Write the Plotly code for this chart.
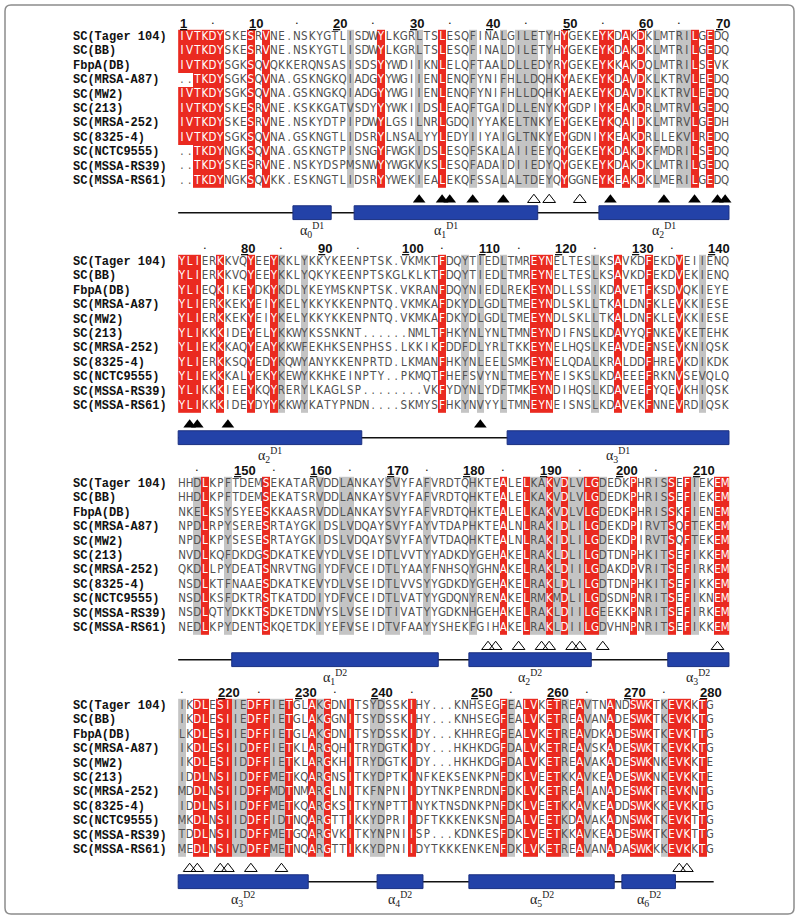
import plotly.graph_objects as go

# ---------------- data ----------------
seq_names = ["SC(Tager 104)", "SC(BB)", "FbpA(DB)", "SC(MRSA-A87)", "SC(MW2)", "SC(213)",
             "SC(MRSA-252)", "SC(8325-4)", "SC(NCTC9555)", "SC(MSSA-RS39)", "SC(MSSA-RS61)"]

block1 = [
    "IVTKDYSKESRVNE.NSKYGTLISDWYLKGRLTSLESQFINALGILETYHYGEKEYKDAKDKLMTRILGEDQ",
    "IVTKDYSKESRVNE.NSKYGTLISDWYLKGRLTSLESQFINALDILETYHYGEKEYKDAKDKLMTRILGEDQ",
    "IVTKDYSGKSQVQKKERQNSASISDSYYWDIIKNLELQFTAALDLLEDYRYGEKEYKKAKDQLMTRILSEVK",
    "..TKDYSGKSQVNA.GSKNGKQIADGYYWGIIENLENQFYNIFHLLDQHKYAEKEYKDAVDKLKTRVLEEDQ",
    "IVTKDYSGKSQVNA.GSKNGKQIADGYYWGIIENLENQFYNIFHLLDQHKYAEKEYKDAVDKLKTRVLEEDQ",
    "IVTKDYSKESRVNE.KSKKGATVSDYYYWKIIDSLEAQFTGAIDLLENYKYGDPIYKEAKDRLMTRVLGEDQ",
    "IVTKDYSKESRVNE.NSKYDTPIPDWYLGSILNRLGDQIYYAKELTNKYEYGEKEYKQAIDKLMTRVLGEDH",
    "IVTKDYSGKSQVNA.GSKNGTLIDSRYLNSALYYLEDYIIYAIGLTNKYEYGDNIYKEAKDRLLEKVLREDQ",
    "..TKDYNGKSQVNA.GSKNGTPISNGYFWGKIDSLESQFSKALAIIEEYQYGEKEYKDAKDKFMDRILSEDQ",
    "..TKDYSKESRVNE.NSKYDSPMSNWYYWGKVKSLESQFADAIDIIEDYQYGEKEYKDAKDKLMTRILGEDQ",
    "..TKDYNGKSQVKK.ESKNGTLIDSRYYWEKIEALEKQFSSALALTDEYQYGGNEYKEAKDKLMERILGEDQ",
]
block2 = [
    "YLIERKKVQYEEYKKLYKKYKEENPTSK.VKMKTFDQYTIEDLTMREYNELTESLKSAVKDFEKDVEIIENQ",
    "YLIERKKVQYEEYKKLYQKYKEENPTSKGLKLKTFDQYTIEDLTMREYNELTESLKSAVKDFEKDVEKIENQ",
    "YLIEQKIKEYDKYKDLYKEYMSKNPTSK.VKRANFDQYNIEDLREKEYNDLLSSIKDAVETFKSDVQKIEYE",
    "YLIERKKEKYEIYKELYKKYKKENPNTQ.VKMKAFDKYDLGDLTMEEYNDLSKLLTKALDNFKLEVKKIESE",
    "YLIERKKEKYEIYKELYKKYKKENPNTQ.VKMKAFDKYDLGDLTMEEYNDLSKLLTKALDNFKLEVKKIESE",
    "YLIKKKIDEYELYKKWYKSSNKNT......NMLTFHKYNLYNLTMNEYNDIFNSLKDAVYQFNKEVKETEHK",
    "YLIEKKKAQYEAYKKWFEKHKSENPHSS.LKKIKFDDFDLYRLTKKEYNELHQSLKEAVDEFNSEVKNIQSK",
    "YLIERKKSQYEDYKQWYANYKKENPRTD.LKMANFHKYNLEELSMKEYNELQDALKRALDDFHREVKDIKDK",
    "YLIEKKKALYEKYKEWYKKHKEINPTY..PKMQTFHEFSVYNLTMEEYNEISKSLKDAEEEFRKNVSEVQLQ",
    "YLIKKKIEEYKQYRERYLKAGLSP........VKFYDYNLYDFTMKEYNDIHQSLKDAVEEFYQEVKHIQSK",
    "YLIKKKIDEYDYYKKWYKATYPNDN....SKMYSFHKYNVYYLTMNEYNEISNSLKDAVEKFNNEVRDIQSK",
]
block3 = [
    "HHDLKPFTDEMSEKATARVDDLANKAYSVYFAFVRDTQHKTEALELKAKVDLVLGDEDKPHRISSEFIEKEM",
    "HHDLKPFTDEMSEKATSRVDDLANKAYSVYFAFVRDTQHKTEALELKAKVDLVLGDEDKPHRISSEFIEKEM",
    "NKELKSYSYEESKKAASRVDDLANKAYSVYFAFVRDTQHKTEALELKAKVDLVLGDEDKPHRISSKFIENEM",
    "NPDLRPYSERESRTAYGKIDSLVDQAYSVYFAYVTDAPHKTEALNLRAKIDLILGDEKDPIRVTSQFTEKEM",
    "NPDLKPYSESESRTAYGKIDSLVDQAYSVYFAYVTDAQHKTEALNLRAKIDLILGDEKDPIRVTSQFTEKEM",
    "NVDLKQFDKDGSDKATKEVYDLVSEIDTLVVTYYADKDYGEHAKELRAKLDLILGDTDNPHKITSEFIKKEM",
    "QKDLLPYDEATSNRVTNGIYDFVCEIDTLYAAYFNHSQYGHNAKELRAKLDIILGDAKDPVRITSEFIRKEM",
    "NSDLKTFNAAESDKATKEVYDLVSEIDTLVVSYYGDKDYGEHAKELRAKLDLILGDTDNPHKITSEFIKKEM",
    "NSDLKSFDKTRSTKATDDIYDFVCEIDTLVATYYGDQNYRENAKELRMKMDLILGDSDNPNRITSEFIKNEM",
    "NSDLQTYDKKTSDKETDNVYSLVSEIDTIVATYYGDKNHGEHAKELRAKLDIILGEEKKPNRITSEFIRKEM",
    "NEDLKPYDENTSKQETDKIYEFVSEIDTVFAAYYSHEKFGIHAKELRAKLDIILGDVHNPNRITSEFIKKEM",
]
block4 = [
    "IKDLESIIEDFFIETGLAKGDNITSYDSSKIHY...KNHSEGFEALVKETREAVTNANDSWKTKEVKKTG",
    "IKDLESIIEDFFIETGLAKGGNITSYDSSKIHY...KNHSEGFEALVKETREAVANADESWKTKEVKKTG",
    "LKDLESIIEDFFIETGLAKGDNITSYDSSKIDY...KHHREGFEALVKETREAVDKADESWKTKEVKTTG",
    "IKDLESIIDDFFIETKLARGQHITRYDGTKIDY...HKHKDGFDALVKETREAVSKADESWKTKEVKKTG",
    "IKDLESIIDDFFIETKLARGKHITRYDGTKIDY...HKHKDGFDALVKETREAVAKADESWKNKEVKKTE",
    "IDDLNSIIDDFFMETKQARGNSITKYDPTKINFKEKSENKPNFDKLVEETKKAVKEADESWKNKEVKKTE",
    "MDDLNSIIDDFFMDTNMARGLNITKFNPNIIDYTNKPENRDNFDKLVKETREAIANADESWKTREVKNTG",
    "IDDLNSIIDDFFMETKQARGKSITKYNPTTINYKTNSDNKPNFDKLVEETKKAVKEADDSWKKKEVKKTG",
    "MKDLNSIIDDFFIDTNQARGTTIKKYDPRIIDFTKKKENKSNFDALVEETKDAVAKADNSWKTKEVKTTG",
    "TDDLNSIIDDFFMETGQARGVKITKYNPNIISP...KDNKESFDKLVEETKKAVKEADESWKTKEVKTTG",
    "MEDLNSIVDDFFMETNQARGTTIKKYDPNIIDYTKKKENKENFDKLVKETREAVANADASWKKKEVKKTG",
]

# conserved (red) and similar (grey) alignment columns, per block
red_b1 = [1, 2, 3, 4, 5, 6, 10, 12, 27, 35, 51, 56, 57, 59, 61, 68, 70]
gray_b1 = [23, 32, 39, 43, 45, 46, 47, 49, 63, 66, 67]
red_b2 = [1, 2, 3, 6, 10, 13, 35, 47, 48, 49, 58, 62, 66]
gray_b2 = [14, 17, 38, 40, 43, 55, 69]
red_b3 = [4, 12, 43, 46, 49, 51, 54, 55, 60, 65, 67, 71, 72]
gray_b3 = [3, 7, 19, 22, 23, 28, 29, 33, 39, 47, 48, 50, 52, 53, 56, 62, 63, 64, 68]
red_b4 = [3, 4, 6, 7, 10, 11, 12, 15, 18, 20, 23, 31, 43, 46, 47, 49, 50, 53, 57, 60, 61, 62, 65, 66, 67, 69]
gray_b4 = [1, 8, 9, 13, 14, 19, 26, 27, 44, 51, 54, 64]

# interface markers (filled / open triangles) per block
tri_filled_b1 = [32, 35, 36, 39, 43, 57, 64, 68, 71, 72]
tri_open_b1 = [47, 49, 53]
tri_filled_b2 = [2, 3, 7, 40]
tri_open_b2 = []
tri_filled_b3 = []
tri_open_b3 = [41, 42, 45, 48, 49, 52, 53, 56, 71]
tri_filled_b4 = []
tri_open_b4 = [2, 3, 6, 7, 10, 14, 66, 67]

# helices: (first column, last column, helix index, domain)
helix_b1 = [(16, 20, "0", "D1"), (24, 47, "1", "D1"), (56, 72, "2", "D1")]
helix_b2 = [(1, 24, "2", "D1"), (44, 72, "3", "D1")]
helix_b3 = [(8, 34, "1", "D2"), (39, 54, "2", "D2"), (65, 72, "3", "D2")]
helix_b4 = [(1, 17, "3", "D2"), (27, 32, "4", "D2"), (39, 57, "5", "D2"), (59, 65, "6", "D2")]

blocks = [block1, block2, block3, block4]
reds = [red_b1, red_b2, red_b3, red_b4]
grays = [gray_b1, gray_b2, gray_b3, gray_b4]
tri_filled = [tri_filled_b1, tri_filled_b2, tri_filled_b3, tri_filled_b4]
tri_open = [tri_open_b1, tri_open_b2, tri_open_b3, tri_open_b4]
helices = [helix_b1, helix_b2, helix_b3, helix_b4]

# ---------------- styling / layout ----------------
RED = "#ea2a20"
GRAY = "#c4c4c4"
BLUE = "#2342a8"
SEQ_FONT = "DejaVu Sans Condensed, Liberation Sans Narrow, Liberation Sans, Arial, sans-serif"
NAME_FONT = "Liberation Mono, DejaVu Sans Mono, monospace"
W, H = 800, 920
COL_PX = 7.65          # pixels per alignment column
COL1_PX = 182          # pixel centre of column 1
ROW_PX = 14.4          # pixels per sequence row
LABEL_PX = 71          # left edge of sequence names
ROW1_PX = [37, 262, 484, 706]  # pixel centre of first row, per block
Y_TOP, Y_BOT = -1.5, 15.5
TICK_Y, TRI_Y, SS_Y, SSLAB_Y = 0.05, 12.3, 13.2, 14.4

x_lo = 1 - COL1_PX / COL_PX
x_hi = x_lo + W / COL_PX
label_x = 1 + (LABEL_PX - COL1_PX) / COL_PX

fig = go.Figure()
annotations = []
shapes = []
layout_axes = {}
residue = 0

for b, rows in enumerate(blocks):
    ya = "y" if b == 0 else f"y{b + 1}"
    yname = "yaxis" if b == 0 else f"yaxis{b + 1}"
    top_px = ROW1_PX[b] + (Y_TOP - 1) * ROW_PX
    bot_px = ROW1_PX[b] + (Y_BOT - 1) * ROW_PX
    layout_axes[yname] = dict(domain=[1 - bot_px / H, 1 - top_px / H], range=[Y_BOT, Y_TOP],
                              visible=False, anchor="x", fixedrange=True)

    ncol = len(rows[0])
    cols = list(range(1, ncol + 1))
    cls = {}
    for c in grays[b]:
        cls[c] = 1
    for c in reds[b]:
        cls[c] = 2
    z = [[(cls.get(c) if row[c - 1] != "." else None) for c in cols] for row in rows]
    fig.add_trace(go.Heatmap(x=cols, y=list(range(1, len(rows) + 1)), z=z, zmin=0, zmax=2,
                             colorscale=[[0, "white"], [0.5, GRAY], [1, RED]], showscale=False,
                             xaxis="x", yaxis=ya, hoverinfo="skip"))

    xs, ys, ts, cs = [], [], [], []
    for r, row in enumerate(rows):
        for c, ch in enumerate(row, start=1):
            xs.append(c)
            ys.append(r + 1)
            ts.append(ch)
            cs.append("white" if (cls.get(c) == 2 and ch != ".") else "#505050")
    fig.add_trace(go.Scatter(x=xs, y=ys, text=ts, mode="text", textposition="middle center",
                             textfont=dict(family=SEQ_FONT, size=11.5, color=cs),
                             xaxis="x", yaxis=ya, hoverinfo="skip", showlegend=False))

    # sequence names
    for r, name in enumerate(seq_names):
        annotations.append(dict(x=label_x, y=r + 1, xref="x", yref=ya, text=name, showarrow=False,
                                xanchor="left", yanchor="middle",
                                font=dict(family=NAME_FONT, size=12, color="#111", weight="bold")))

    # numbering from the first sequence
    for c, ch in enumerate(rows[0], start=1):
        if ch == ".":
            continue
        residue += 1
        if residue == 1 or residue % 10 == 0:
            s = str(residue)
            annotations.append(dict(x=c - 0.5, y=TICK_Y, xref="x", yref=ya,
                                    text="<u>" + s[0] + "</u>" + s[1:], showarrow=False,
                                    xanchor="left", yanchor="middle",
                                    font=dict(family="Liberation Sans, Arial", size=13,
                                              color="#111", weight="bold")))
        elif residue % 5 == 0:
            annotations.append(dict(x=c, y=TICK_Y, xref="x", yref=ya, text=".", showarrow=False,
                                    xanchor="center", yanchor="bottom", yshift=-6,
                                    font=dict(family="Liberation Sans, Arial", size=13, color="#111")))

    # triangles
    if tri_filled[b]:
        fig.add_trace(go.Scatter(x=tri_filled[b], y=[TRI_Y] * len(tri_filled[b]), mode="markers",
                                 marker=dict(symbol="triangle-up", size=11, color="black"),
                                 xaxis="x", yaxis=ya, hoverinfo="skip", showlegend=False))
    if tri_open[b]:
        fig.add_trace(go.Scatter(x=tri_open[b], y=[TRI_Y] * len(tri_open[b]), mode="markers",
                                 marker=dict(symbol="triangle-up-open", size=11, color="black",
                                             line=dict(width=1)),
                                 xaxis="x", yaxis=ya, hoverinfo="skip", showlegend=False))

    # secondary structure
    shapes.append(dict(type="line", xref="x", yref=ya, x0=0.5, x1=ncol + 0.5, y0=SS_Y, y1=SS_Y,
                       line=dict(color="#111", width=1.6), layer="above"))
    for (s0, s1, idx, dom) in helices[b]:
        shapes.append(dict(type="rect", xref="x", yref=ya, x0=s0 - 0.5, x1=s1 + 0.5,
                           y0=SS_Y - 0.48, y1=SS_Y + 0.48, fillcolor=BLUE,
                           line=dict(color="#1a2f80", width=1), layer="above"))
        annotations.append(dict(x=(s0 + s1) / 2, y=SSLAB_Y, xref="x", yref=ya,
                                text="α<sub>" + idx + "</sub><sup>" + dom + "</sup>",
                                showarrow=False, xanchor="center", yanchor="middle",
                                font=dict(family="Liberation Serif, DejaVu Serif, serif", size=14,
                                          color="#222")))

# rounded frame around the figure
fx0, fx1, fy0, fy1, rr = 5 / W, 794 / W, 1 - 914 / H, 1 - 5 / H, 6
rx, ry = rr / W, rr / H
frame = (f"M {fx0 + rx},{fy1} L {fx1 - rx},{fy1} Q {fx1},{fy1} {fx1},{fy1 - ry} "
         f"L {fx1},{fy0 + ry} Q {fx1},{fy0} {fx1 - rx},{fy0} L {fx0 + rx},{fy0} "
         f"Q {fx0},{fy0} {fx0},{fy0 + ry} L {fx0},{fy1 - ry} Q {fx0},{fy1} {fx0 + rx},{fy1} Z")
shapes.append(dict(type="path", xref="paper", yref="paper", path=frame,
                   line=dict(color="#8c8c8c", width=1.5)))

fig.update_layout(
    width=W, height=H, margin=dict(l=0, r=0, t=0, b=0),
    paper_bgcolor="white", plot_bgcolor="rgba(0,0,0,0)",
    xaxis=dict(range=[x_lo, x_hi], visible=False, domain=[0, 1], fixedrange=True),
    annotations=annotations, shapes=shapes, showlegend=False,
    **layout_axes,
)

fig.write_html("out.html", config={"displayModeBar": False},
               post_script="document.body.style.margin='0px';document.body.style.overflow='hidden';")
